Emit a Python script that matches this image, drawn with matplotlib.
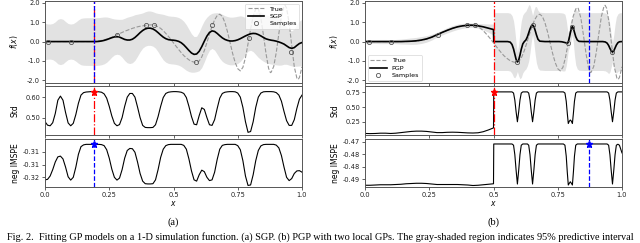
import matplotlib
matplotlib.use('Agg')
import matplotlib.pyplot as plt
from matplotlib.ticker import FormatStrFormatter
import numpy as np

# ---- true function (shared by both columns) ----
TRUE_X = [0.00, 0.10, 0.18, 0.19, 0.20, 0.21, 0.22, 0.23, 0.24, 0.25, 0.26, 0.27, 0.28, 0.29,
          0.30, 0.31, 0.32, 0.33, 0.34, 0.35, 0.36, 0.37, 0.38, 0.39, 0.40, 0.41, 0.42, 0.43,
          0.44, 0.45, 0.46, 0.47, 0.48, 0.49, 0.50, 0.51, 0.52, 0.53, 0.54, 0.55, 0.56, 0.57,
          0.58, 0.59, 0.60, 0.61, 0.62, 0.63, 0.64, 0.65, 0.66, 0.67, 0.68, 0.69, 0.70, 0.71,
          0.72, 0.73, 0.74, 0.75, 0.76, 0.77, 0.78, 0.79, 0.80, 0.81, 0.82, 0.826, 0.83, 0.84,
          0.85, 0.86, 0.87, 0.877, 0.88, 0.89, 0.90, 0.91, 0.92, 0.93, 0.934, 0.94, 0.95, 0.96,
          0.97, 0.98, 0.985, 0.99, 1.00]
TRUE_Y = [0.00, 0.00, 0.00, 0.01, 0.02, 0.04, 0.06, 0.09, 0.13, 0.17, 0.22, 0.28, 0.35, 0.41,
          0.47, 0.53, 0.58, 0.63, 0.68, 0.72, 0.76, 0.79, 0.81, 0.83, 0.85, 0.86, 0.86, 0.83,
          0.76, 0.68, 0.56, 0.42, 0.27, 0.11, -0.07, -0.24, -0.41, -0.57, -0.72, -0.84, -0.94, -1.02,
          -1.06, -1.08, -1.00, -0.79, -0.46, -0.05, 0.38, 0.79, 1.12, 1.34, 1.41, 1.30, 0.98, 0.51,
          -0.05, -0.61, -1.08, -1.40, -1.51, -1.33, -0.83, -0.11, 0.65, 1.30, 1.68, 1.75, 1.70, 1.21,
          0.33, -0.62, -1.38, -1.60, -1.58, -1.28, -0.55, 0.42, 1.31, 1.82, 1.87, 1.73, 0.95, -0.20,
          -1.30, -1.88, -1.95, -1.85, -1.30]

# ---- (a) SGP, evaluated on a 0.01 grid ----
X_A = np.linspace(0, 1, 101)
MEAN_A = [0, 0, 0, 0, 0, 0, 0, 0, 0, 0,
          0, 0, 0, 0, 0, 0, 0, 0, 0, 0,
          0.00, 0.01, 0.03, 0.06, 0.10, 0.15, 0.20, 0.24, 0.25, 0.23,
          0.17, 0.11, 0.08, 0.08, 0.12, 0.21, 0.33, 0.46, 0.57, 0.65,
          0.69, 0.69, 0.65, 0.57, 0.46, 0.34, 0.23, 0.15, 0.10, 0.08,
          0.07, 0.05, 0.01, -0.06, -0.17, -0.31, -0.46, -0.59, -0.66, -0.64,
          -0.50, -0.26, 0.02, 0.28, 0.47, 0.55, 0.52, 0.42, 0.30, 0.19,
          0.11, 0.06, 0.03, 0.03, 0.05, 0.09, 0.15, 0.22, 0.29, 0.35,
          0.40, 0.42, 0.41, 0.36, 0.29, 0.21, 0.14, 0.10, 0.07, 0.05,
          0.02, -0.02, -0.07, -0.13, -0.22, -0.31, -0.35, -0.31, -0.20, -0.10,
          -0.05]
STD_A = [0.480, 0.463, 0.460, 0.475, 0.520, 0.585, 0.605, 0.585, 0.525, 0.474,
         0.460, 0.472, 0.515, 0.570, 0.610, 0.622, 0.625, 0.626, 0.627, 0.627,
         0.627, 0.626, 0.624, 0.616, 0.595, 0.555, 0.508, 0.472, 0.460, 0.466,
         0.500, 0.555, 0.600, 0.618, 0.618, 0.600, 0.552, 0.500, 0.462, 0.452,
         0.451, 0.451, 0.452, 0.465, 0.505, 0.555, 0.598, 0.618, 0.624, 0.626,
         0.627, 0.627, 0.626, 0.624, 0.618, 0.598, 0.555, 0.505, 0.468, 0.465,
         0.510, 0.548, 0.540, 0.500, 0.465, 0.462, 0.490, 0.545, 0.595, 0.618,
         0.624, 0.626, 0.627, 0.627, 0.626, 0.620, 0.600, 0.550, 0.480, 0.428,
         0.432, 0.480, 0.550, 0.600, 0.620, 0.626, 0.627, 0.627, 0.627, 0.626,
         0.622, 0.610, 0.580, 0.530, 0.485, 0.462, 0.462, 0.490, 0.545, 0.590,
         0.610]
IMSPE_A = [-0.3210, -0.3208, -0.3195, -0.3170, -0.3140, -0.3120, -0.3117, -0.3128, -0.3160, -0.3198,
           -0.3211, -0.3200, -0.3160, -0.3110, -0.3080, -0.3073, -0.3071, -0.3071, -0.3071, -0.3070,
           -0.3071, -0.3071, -0.3072, -0.3076, -0.3092, -0.3125, -0.3168, -0.3200, -0.3211, -0.3203,
           -0.3170, -0.3125, -0.3095, -0.3087, -0.3088, -0.3102, -0.3140, -0.3185, -0.3215, -0.3225,
           -0.3226, -0.3226, -0.3225, -0.3210, -0.3170, -0.3122, -0.3090, -0.3076, -0.3072, -0.3071,
           -0.3071, -0.3071, -0.3071, -0.3071, -0.3075, -0.3090, -0.3128, -0.3175, -0.3210, -0.3215,
           -0.3190, -0.3172, -0.3178, -0.3200, -0.3213, -0.3210, -0.3180, -0.3130, -0.3090, -0.3075,
           -0.3072, -0.3071, -0.3071, -0.3071, -0.3071, -0.3076, -0.3092, -0.3135, -0.3195, -0.3232,
           -0.3230, -0.3190, -0.3135, -0.3095, -0.3077, -0.3072, -0.3071, -0.3071, -0.3071, -0.3071,
           -0.3074, -0.3085, -0.3115, -0.3160, -0.3200, -0.3213, -0.3205, -0.3185, -0.3175, -0.3174,
           -0.3180]
SAMPLES_A_X = [0.013, 0.100, 0.281, 0.392, 0.424, 0.586, 0.650, 0.794, 0.957]
SAMPLES_A_Y = [0.00, 0.00, 0.35, 0.83, 0.83, -1.05, 0.85, 0.16, -0.54]
PICK_A_STD = 0.19
PICK_A_IMSPE = 0.19

# ---- (b) PGP: left local GP on [0, 0.5], right local GP on (0.5, 1] ----
X_B_LEFT = np.linspace(0, 0.5, 26)
MEAN_B_LEFT = [0, 0, 0, 0, 0, 0, 0, 0, 0.01, 0.02, 0.04, 0.08, 0.14, 0.23, 0.35, 0.47,
               0.58, 0.68, 0.76, 0.81, 0.84, 0.84, 0.81, 0.76, 0.69, 0.62]
STD_B_LEFT = [0.050, 0.048, 0.050, 0.055, 0.055, 0.050, 0.055, 0.065, 0.075, 0.085, 0.090,
              0.090, 0.085, 0.075, 0.065, 0.065, 0.070, 0.072, 0.070, 0.065, 0.060, 0.058,
              0.062, 0.080, 0.110, 0.145]
IMSPE_B_LEFT = [-0.4875, -0.4875, -0.4874, -0.4873, -0.4873, -0.4873, -0.4872, -0.4871, -0.4869,
                -0.4868, -0.4867, -0.4867, -0.4868, -0.4870, -0.4872, -0.4872, -0.4872, -0.4872,
                -0.4872, -0.4873, -0.4874, -0.4876, -0.4875, -0.4873, -0.4871, -0.4869]

X_B_RIGHT = [0.501, 0.52, 0.54, 0.555, 0.565, 0.572, 0.578, 0.583, 0.588, 0.593, 0.598, 0.603,
             0.608, 0.614, 0.620, 0.626, 0.632, 0.637, 0.642, 0.647, 0.652, 0.657, 0.662, 0.667,
             0.673, 0.680, 0.700, 0.720, 0.740, 0.755, 0.765, 0.772, 0.778, 0.783, 0.787, 0.791,
             0.795, 0.799, 0.803, 0.807, 0.811, 0.815, 0.820, 0.826, 0.833, 0.850, 0.870, 0.890,
             0.910, 0.925, 0.935, 0.942, 0.948, 0.953, 0.958, 0.963, 0.968, 0.973, 0.978, 0.984,
             0.990, 1.000]
MEAN_B_RIGHT = [0.00, 0.00, 0.00, 0.00, -0.03, -0.15, -0.38, -0.65, -0.92, -1.05, -0.95, -0.70,
                -0.40, -0.12, 0.00, 0.08, 0.25, 0.45, 0.65, 0.80, 0.85, 0.78, 0.58, 0.35,
                0.12, 0.02, 0.00, 0.00, 0.00, 0.00, -0.01, -0.03, -0.05, -0.07, -0.08, -0.02,
                0.20, 0.45, 0.66, 0.77, 0.68, 0.48, 0.25, 0.08, 0.01, 0.00, 0.00, 0.00,
                0.00, 0.00, -0.02, -0.08, -0.20, -0.35, -0.48, -0.54, -0.48, -0.33, -0.18, -0.06,
                -0.01, 0.00]
STD_B_RIGHT = [0.76, 0.76, 0.76, 0.76, 0.76, 0.76, 0.74, 0.62, 0.42, 0.25, 0.42, 0.62,
               0.74, 0.76, 0.76, 0.76, 0.76, 0.74, 0.62, 0.42, 0.25, 0.42, 0.62, 0.74,
               0.76, 0.76, 0.76, 0.76, 0.76, 0.76, 0.76, 0.76, 0.74, 0.60, 0.40, 0.22,
               0.26, 0.28, 0.26, 0.22, 0.40, 0.60, 0.74, 0.76, 0.76, 0.76, 0.76, 0.76,
               0.76, 0.76, 0.76, 0.76, 0.74, 0.62, 0.42, 0.25, 0.42, 0.62, 0.74, 0.76,
               0.76, 0.76]
IMSPE_B_RIGHT = [-0.4709, -0.4709, -0.4709, -0.4709, -0.4709, -0.4709, -0.4714, -0.4752, -0.4815,
                 -0.4870, -0.4815, -0.4752, -0.4714, -0.4709, -0.4709, -0.4709, -0.4709, -0.4714,
                 -0.4752, -0.4815, -0.4870, -0.4815, -0.4752, -0.4714, -0.4709, -0.4709, -0.4709,
                 -0.4709, -0.4709, -0.4709, -0.4709, -0.4709, -0.4714, -0.4758, -0.4821, -0.4874,
                 -0.4867, -0.4861, -0.4867, -0.4874, -0.4821, -0.4758, -0.4714, -0.4709, -0.4709,
                 -0.4709, -0.4709, -0.4709, -0.4709, -0.4709, -0.4709, -0.4709, -0.4714, -0.4752,
                 -0.4815, -0.4870, -0.4815, -0.4752, -0.4714, -0.4710, -0.4714, -0.4745]
SAMPLES_B_X = [0.016, 0.101, 0.285, 0.396, 0.428, 0.593, 0.652, 0.790, 0.807, 0.963]
SAMPLES_B_Y = [0.00, 0.00, 0.35, 0.83, 0.83, -1.05, 0.85, -0.06, 0.76, -0.54]
PICK_B_STD = 0.50
PICK_B_IMSPE = 0.872

CAPTION = ("Fig. 2.  Fitting GP models on a 1-D simulation function. (a) SGP. (b) PGP with two "
           "local GPs. The gray-shaded region indicates 95% predictive interval")

W, H = 640, 243
fig = plt.figure(figsize=(W / 100, H / 100), dpi=100)
plt.rcParams['font.size'] = 5


def px_axes(left, top, right, bottom):
    return fig.add_axes([left / W, 1 - bottom / H, (right - left) / W, (bottom - top) / H])


def style(ax):
    for s in ax.spines.values():
        s.set_color('#555555')
        s.set_linewidth(0.7)
    ax.tick_params(length=2, width=0.5, pad=1.5, labelsize=4.8, colors='#222222')
    ax.set_xlim(0, 1)
    ax.yaxis.set_label_coords(-0.098, 0.5)


def draw_column(x0, x, mean, std, imspe, sx, sy, model, pick_std, pick_imspe,
                legend_loc, std_ylim, std_ticks, imspe_ylim, imspe_ticks, imspe_labels, tag):
    x = np.asarray(x)
    mean = np.asarray(mean)
    std = np.asarray(std)
    imspe = np.asarray(imspe)

    ax1 = px_axes(x0, 1, x0 + 257, 83.3)
    ax2 = px_axes(x0, 86.5, x0 + 257, 135)
    ax3 = px_axes(x0, 139, x0 + 257, 187)

    # top: fit with 95% band
    ax1.fill_between(x, mean - 1.96 * std, mean + 1.96 * std, color='#e2e2e2', lw=0)
    ax1.plot(TRUE_X, TRUE_Y, '--', color='#999999', lw=0.8, label='True')
    ax1.plot(x, mean, color='black', lw=1.2, label=model)
    ax1.plot(sx, sy, 'o', ms=3, mfc='none', mec='#555555', mew=0.6, label='Samples')
    ax1.axvline(pick_std, color='red', ls='-.', lw=0.9)
    ax1.axvline(pick_imspe, color='blue', ls='--', lw=0.9)
    ax1.set_ylim(-2.15, 2.09)
    ax1.set_yticks([-2, -1, 0, 1, 2])
    ax1.yaxis.set_major_formatter(FormatStrFormatter('%.1f'))
    ax1.set_ylabel('$f(x)$', fontsize=5.5)
    leg = ax1.legend(loc=legend_loc, fontsize=4.6, handlelength=2.6, borderpad=0.4,
                     labelspacing=0.3, borderaxespad=0.4, fancybox=True)
    leg.get_frame().set_linewidth(0.5)

    # middle: predictive std
    ax2.plot(x, std, color='black', lw=0.8)
    ax2.axvline(pick_std, color='red', ls='-.', lw=0.9)
    ax2.plot([pick_std], [std.max()], '*', color='red', ms=5)
    ax2.set_ylim(*std_ylim)
    ax2.set_yticks(std_ticks)
    ax2.yaxis.set_major_formatter(FormatStrFormatter('%.2f'))
    ax2.set_ylabel('Std', fontsize=5.5)

    # bottom: negative IMSPE
    ax3.plot(x, imspe, color='black', lw=0.8)
    ax3.axvline(pick_imspe, color='blue', ls='--', lw=0.9)
    ax3.plot([pick_imspe], [imspe.max()], '*', color='blue', ms=5)
    ax3.set_ylim(*imspe_ylim)
    ax3.set_yticks(imspe_ticks)
    ax3.set_yticklabels(imspe_labels)
    ax3.set_ylabel('neg IMSPE', fontsize=5.5)
    ax3.set_xlabel('$x$', fontsize=5.5, labelpad=1)

    for ax in (ax1, ax2, ax3):
        style(ax)
        ax.set_xticks([0, 0.25, 0.5, 0.75, 1.0])
    ax1.set_xticklabels([])
    ax2.set_xticklabels([])
    ax3.set_xticklabels(['0.0', '0.25', '0.5', '0.75', '1.0'])

    fig.text((x0 + 128.5) / W, 1 - 222 / H, tag, family='Liberation Serif', fontsize=7.5,
             ha='center', va='center')


draw_column(45, X_A, MEAN_A, STD_A, IMSPE_A, SAMPLES_A_X, SAMPLES_A_Y, 'SGP',
            PICK_A_STD, PICK_A_IMSPE, 'upper right',
            (0.415, 0.652), [0.50, 0.60],
            (-0.3238, -0.3050), [-0.320, -0.315, -0.310], ['-0.32', '-0.31', '-0.31'], '(a)')

draw_column(365,
            np.concatenate([X_B_LEFT, X_B_RIGHT]),
            MEAN_B_LEFT + MEAN_B_RIGHT, STD_B_LEFT + STD_B_RIGHT, IMSPE_B_LEFT + IMSPE_B_RIGHT,
            SAMPLES_B_X, SAMPLES_B_Y, 'PGP', PICK_B_STD, PICK_B_IMSPE, 'lower left',
            (0.024, 0.852), [0.25, 0.50, 0.75],
            (-0.4882, -0.4689), [-0.485, -0.480, -0.475, -0.470],
            ['-0.49', '-0.48', '-0.48', '-0.47'], '(b)')

# caption kept fully inside the canvas
fig.text(0.5, 1 - 237.5 / H, CAPTION, family='Liberation Serif', fontsize=7.4,
         ha='center', va='center')

fig.savefig('out.png', dpi=100)
